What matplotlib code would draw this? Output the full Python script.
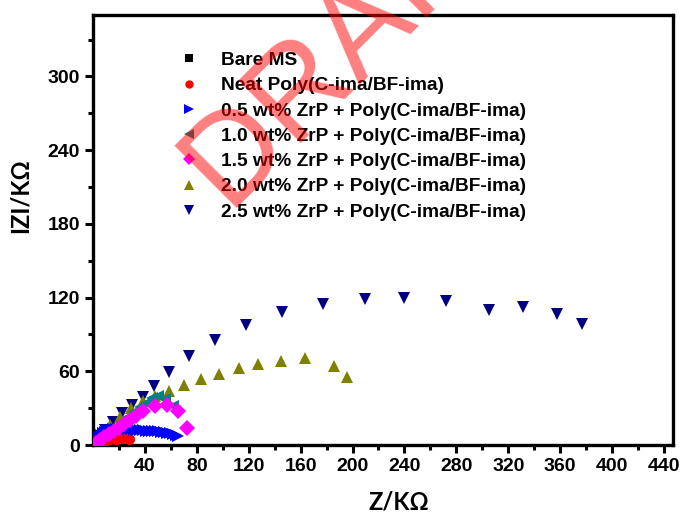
import numpy as np
import matplotlib
matplotlib.use("Agg")
import matplotlib.pyplot as plt
from matplotlib.ticker import MultipleLocator, FixedLocator

# series (Z/KOhm, |Z|/KOhm)
bare_x = [1.0, 2.0, 3.0, 4.0, 5.0]
bare_y = [0.3, 0.6, 0.9, 1.2, 1.5]

neat_x = [2.3, 5.4, 9.2, 13.1, 17.7, 22.3, 25.4, 27.7]
neat_y = [0.8, 2.4, 3.6, 4.5, 5.0, 5.3, 5.3, 4.9]

zrp05_x = [1.5, 3.1, 4.6, 6.2, 7.7, 9.2, 10.8, 12.3, 13.8, 15.4, 17.7, 20.0, 22.3, 24.6, 26.9,
           29.2, 31.5, 33.8, 36.2, 38.5, 40.8, 43.1, 45.4, 47.7, 50.0, 52.3, 54.6, 56.9,
           59.2, 61.5, 63.8, 65.4]
zrp05_y = [2.4, 4.5, 6.5, 8.1, 9.4, 10.6, 11.4, 12.2, 12.6, 13.0, 13.4, 13.4, 13.4, 13.4, 13.0,
           13.0, 12.6, 12.6, 12.2, 12.2, 11.8, 11.8, 11.4, 11.0, 11.0, 10.6, 10.2, 9.8,
           9.4, 8.9, 8.1, 7.3]

zrp10_x = [3.8, 8.5, 13.1, 17.7, 22.3, 26.9, 31.5, 36.2, 40.8, 45.4, 50.0, 55.4, 61.5]
zrp10_y = [3.3, 7.3, 10.6, 14.6, 18.7, 22.8, 26.8, 30.9, 34.1, 38.2, 39.8, 37.4, 31.7]

zrp15_x = [2.3, 5.4, 8.5, 12.3, 16.2, 20.0, 23.8, 28.5, 33.1, 38.5, 47.7, 56.9, 65.4, 72.3]
zrp15_y = [1.6, 4.1, 6.5, 8.9, 11.4, 13.8, 17.1, 20.3, 23.6, 27.6, 31.7, 32.5, 27.6, 13.8]

zrp20_x = [6.9, 13.1, 20.8, 29.2, 38.5, 47.7, 58.5, 70.0, 83.1, 96.9, 112.3, 126.9, 144.6, 163.1, 185.4, 195.4]
zrp20_y = [10.6, 16.3, 22.8, 30.1, 35.8, 39.8, 43.9, 48.8, 53.7, 57.7, 62.6, 65.9, 68.3, 70.7, 64.2, 55.3]

zrp25_x = [4.6, 9.2, 15.4, 22.3, 30.0, 38.5, 46.9, 58.5, 73.8, 93.8, 117.7, 145.4, 176.9, 210.0,
           240.0, 272.3, 305.4, 331.5, 357.7, 376.9]
zrp25_y = [7.3, 12.2, 18.7, 26.0, 32.5, 39.0, 48.0, 59.3, 72.4, 85.4, 97.6, 108.1, 114.6, 118.7,
           119.5, 117.1, 109.8, 112.2, 106.5, 98.4]

labels = ["Bare MS", "Neat Poly(C-ima/BF-ima)",
          "0.5 wt% ZrP + Poly(C-ima/BF-ima)", "1.0 wt% ZrP + Poly(C-ima/BF-ima)",
          "1.5 wt% ZrP + Poly(C-ima/BF-ima)", "2.0 wt% ZrP + Poly(C-ima/BF-ima)",
          "2.5 wt% ZrP + Poly(C-ima/BF-ima)"]

plt.rcParams["font.family"] = ["Liberation Sans", "DejaVu Sans"]
plt.rcParams["font.weight"] = "bold"

fig = plt.figure(figsize=(6.81, 5.15), dpi=100)
ax = fig.add_axes([93 / 681, 70 / 515, 580 / 681, 430 / 515])

series = [
    (bare_x, bare_y, "s", "black", 7, 3),
    (neat_x, neat_y, "o", "#ff0000", 8, 4),
    (zrp05_x, zrp05_y, ">", "#0000ff", 9, 5),
    (zrp10_x, zrp10_y, "<", "#008080", 9, 6),
    (zrp15_x, zrp15_y, "D", "#ff00ff", 8.5, 7),
    (zrp20_x, zrp20_y, "^", "#808000", 9, 2.5),
    (zrp25_x, zrp25_y, "v", "#000080", 9, 2),
]
for (xs, ys, m, c, ms, z), lab in zip(series, labels):
    ax.plot(xs, ys, ls="none", marker=m, color=c, ms=ms, mew=0, label=lab, zorder=z)

ax.set_xlim(0, 447)
ax.set_ylim(0, 350)
ax.xaxis.set_major_locator(FixedLocator(np.arange(40, 441, 40)))
ax.xaxis.set_minor_locator(FixedLocator(np.arange(20, 441, 40)))
ax.yaxis.set_major_locator(MultipleLocator(60))
ax.yaxis.set_minor_locator(FixedLocator(np.arange(30, 350, 60)))
ax.tick_params(which="both", direction="out", width=2.2, top=False, right=False,
               labelsize=14)
ax.tick_params(which="major", length=6)
ax.tick_params(which="minor", length=3.5)
for sp in ax.spines.values():
    sp.set_linewidth(2.4)

lab_font = dict(family=["Lato", "DejaVu Sans"], weight="bold", size=17)
ax.set_xlabel("Z/KΩ", fontdict=lab_font)
ax.set_ylabel("IZI/KΩ", fontdict=lab_font)
ax.xaxis.set_label_coords(0.528, -0.105)
ax.yaxis.set_label_coords(-0.105, 0.58)

leg = ax.legend(loc="upper left", bbox_to_anchor=(0.149, 0.915), frameon=False,
                fontsize=13.8, numpoints=1, handlelength=1.0, handletextpad=1.17,
                labelspacing=0.41, borderpad=0, borderaxespad=0, markerscale=0.75)

# watermark
fig.text(226 / 681, 1 - 208 / 515, "DRAFT", rotation=45, rotation_mode="anchor",
         ha="left", va="baseline", fontsize=92, fontweight="normal",
         family="Liberation Sans", color="red", alpha=0.5, zorder=10)

fig.savefig("out.png", dpi=100)
